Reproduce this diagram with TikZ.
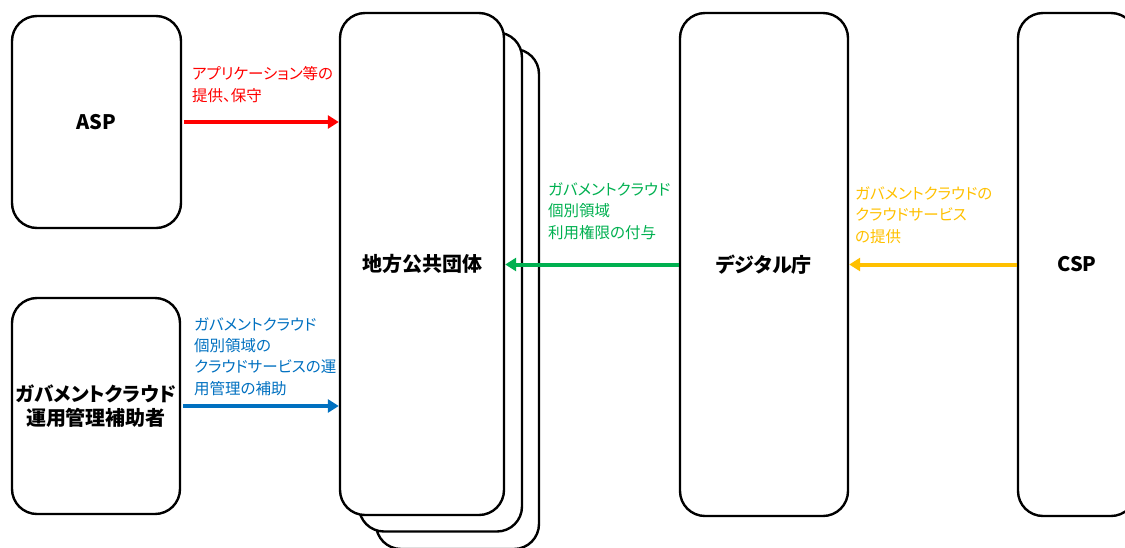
\documentclass[tikz,border=0pt]{standalone}
\usepackage{fontspec}
\setmainfont{Noto Sans CJK JP}[RawFeature=+palt]
\usetikzlibrary{arrows.meta,positioning}
\definecolor{lblred}{HTML}{FF0000}
\definecolor{lblblue}{HTML}{0070C0}
\definecolor{lblgreen}{HTML}{00B050}
\definecolor{lblyellow}{HTML}{FFC000}
\begin{document}
\begin{tikzpicture}[x=1pt,y=-1pt,
    box/.style={draw,line width=2.4pt,rounded corners=25pt,fill=white,
      inner sep=0pt,align=center,font=\fontsize{20}{24}\selectfont\bfseries},
    flow/.style={line width=4pt,-{Triangle[length=11pt,width=13pt]}},
    lbl/.style={anchor=base west,inner sep=0pt,align=left,
      font=\fontsize{15.5}{21.3}\selectfont}]
  \useasboundingbox (0,0) rectangle (1125,547);
  % stacked boxes behind the local governments
  \node[box,minimum width=163pt,minimum height=500pt] (lg3) at (457.5,299) {};
  \node[box,minimum width=163pt,minimum height=499pt] (lg2) at (440.5,282) {};
  \node[box,minimum width=164pt,minimum height=502pt] (lg) at (422,264) {地方公共団体};
  % left side
  \node[box,minimum width=169pt,minimum height=212pt] (asp) at (96.5,122) {ASP};
  \node[box,minimum width=168pt,minimum height=216pt] (aux) at (96,406)
    {\fontsize{19.5}{24}\selectfont ガバメントクラウド\\運用管理補助者};
  % right side
  \node[box,minimum width=168pt,minimum height=503pt] (dig) at (764,264.5) {デジタル庁};
  \node[box,minimum width=118pt,minimum height=503pt] (csp) at (1077,264.5) {CSP};
  % connectors
  \draw[flow,lblred] ([xshift=2pt]asp.east) -- (asp.east -| lg.west);
  \draw[flow,lblblue] ([xshift=2pt]aux.east) -- (aux.east -| lg.west);
  \draw[flow,lblgreen] (dig.west) -- (dig.west -| lg.east);
  \draw[flow,lblyellow] (csp.west) -- (dig.east);
  % labels (anchored at the last baseline)
  \node[lbl,text=lblred] (lred) at (192,101) {アプリケーション等の\\提供、保守};
  \node[lbl,text=lblblue] (lblue) at (194,394)
    {ガバメントクラウド\\個別領域の\\クラウドサービスの運\\用管理の補助};
  \node[lbl,text=lblgreen] (lgreen) at (548,238)
    {ガバメントクラウド\\個別領域\\利用権限の付与};
  \node[lbl,text=lblyellow] (lyellow) at (855,242)
    {ガバメントクラウドの\\クラウドサービス\\の提供};
\end{tikzpicture}
\end{document}
